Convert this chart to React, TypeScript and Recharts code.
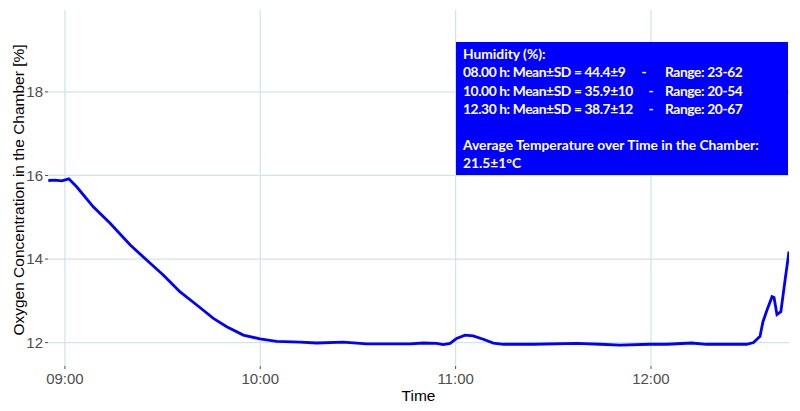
import React from 'react';
import { LineChart, Line, XAxis, YAxis, CartesianGrid } from 'recharts';

// time of day in minutes after midnight
const minutes = [
  534.9, 536.9, 539.0, 541.2, 543.6, 548.7, 553.8, 560.0, 565.6, 570.2,
  575.3, 580.5, 585.6, 589.7, 594.8, 599.9, 605.0, 612.2, 617.3, 625.5,
  632.7, 646.0, 650.1, 654.2, 656.2, 658.3, 660.3, 662.9, 665.4, 668.5,
  671.6, 674.7, 683.9, 697.2, 704.4, 710.5, 719.7, 724.9, 732.5, 737.1,
  749.4, 751.5, 753.5, 754.4, 755.7, 757.2, 757.8, 758.7, 759.9, 761.2,
  762.4,
];

// oxygen concentration [%]
const oxygen = [
  15.88, 15.89, 15.87, 15.92, 15.73, 15.25, 14.86, 14.34, 13.94, 13.62,
  13.22, 12.9, 12.58, 12.38, 12.18, 12.09, 12.03, 12.01, 11.99, 12.01,
  11.97, 11.97, 11.99, 11.98, 11.95, 11.98, 12.1, 12.18, 12.16, 12.08,
  11.99, 11.96, 11.96, 11.98, 11.96, 11.94, 11.96, 11.96, 11.99, 11.96,
  11.96, 12.0, 12.15, 12.5, 12.79, 13.1, 13.08, 12.67, 12.74, 13.5,
  14.18,
];

const timeTicks = [540, 600, 660, 720];
const oxygenTicks = [12, 14, 16, 18];

const humidityTimes = ['08.00 h', '10.00 h', '12.30 h'];
const humidityMeanSd = ['44.4±9', '35.9±10', '38.7±12'];
const humidityRanges = ['23-62', '20-54', '20-67'];
const temperatureNote = 'Average Temperature over Time in the Chamber:';
const avgTemperature = '21.5±1°C';

const data = minutes.map((t, i) => ({ t, o2: oxygen[i] }));

const fmtTime = (m: number) =>
  `${String(Math.floor(m / 60)).padStart(2, '0')}:${String(Math.round(m % 60)).padStart(2, '0')}`;

const gridColor = '#cfe4ec';
const tickStyle = { fill: '#4d4d4d', fontSize: 15, fontFamily: '"Liberation Sans", Arial, sans-serif' };

const InfoBox = () => {
  const textStyle: React.CSSProperties = {
    fill: '#fff',
    fontFamily: 'Lato, "Open Sans", sans-serif',
    fontWeight: 700,
    fontSize: 13.8,
  };
  // Calibri-like digits are narrow, tighten the humidity rows a bit
  const rowStyle: React.CSSProperties = { ...textStyle, letterSpacing: -0.4 };
  const dashX = [644, 651, 651];
  return (
    <svg width={800} height={411} style={{ position: 'absolute', left: 0, top: 0, pointerEvents: 'none' }}>
      <rect x={456} y={42} width={332} height={133} fill="#0000ff" />
      <text x={463} y={59.3} style={textStyle}>Humidity (%):</text>
      {humidityTimes.map((h, i) => (
        <g key={h}>
          <text x={463} y={77.4 + i * 18.1} style={rowStyle}>
            {`${h}: Mean±SD = ${humidityMeanSd[i]}`}
          </text>
          <text x={dashX[i]} y={77.4 + i * 18.1} style={textStyle} textAnchor="middle">-</text>
          <text x={665} y={77.4 + i * 18.1} style={rowStyle}>{`Range: ${humidityRanges[i]}`}</text>
        </g>
      ))}
      <text x={463} y={149.9} style={textStyle}>{temperatureNote}</text>
      <text x={463} y={168} style={textStyle}>{avgTemperature}</text>
    </svg>
  );
};

const App = () => {
  return (
    <div style={{ position: 'absolute', left: 0, top: 0, width: 800, height: 411, background: '#fff' }}>
      <LineChart width={800} height={411} data={data} margin={{ top: 10, right: 11, bottom: 0, left: 0 }}>
        <CartesianGrid stroke={gridColor} strokeWidth={1.2} syncWithTicks />
        <XAxis
          dataKey="t"
          type="number"
          domain={[534.8, 762.4]}
          ticks={timeTicks}
          tickFormatter={fmtTime}
          allowDataOverflow
          axisLine={false}
          tickSize={3}
          tickMargin={4}
          tickLine={{ stroke: '#4d4d4d' }}
          tick={tickStyle}
          height={45}
          label={{
            value: 'Time',
            position: 'insideBottom',
            offset: 10,
            style: { fill: '#000', fontSize: 15.5, fontFamily: '"Liberation Sans", Arial, sans-serif' },
          }}
        />
        <YAxis
          type="number"
          domain={[11.44, 19.96]}
          ticks={oxygenTicks}
          allowDataOverflow
          axisLine={false}
          tickSize={3}
          tickMargin={2}
          tickLine={{ stroke: '#4d4d4d' }}
          tick={tickStyle}
          width={48}
          label={{
            value: 'Oxygen Concentration in the Chamber [%]',
            angle: -90,
            position: 'center',
            dx: -6,
            dy: 2,
            style: { fill: '#000', fontSize: 15.5, fontFamily: '"Liberation Sans", Arial, sans-serif', textAnchor: 'middle' },
          }}
        />
        <Line
          type="linear"
          dataKey="o2"
          stroke="#0000ff"
          strokeWidth={2.8}
          dot={false}
          isAnimationActive={false}
        />
      </LineChart>
      <InfoBox />
    </div>
  );
};

export default App;
